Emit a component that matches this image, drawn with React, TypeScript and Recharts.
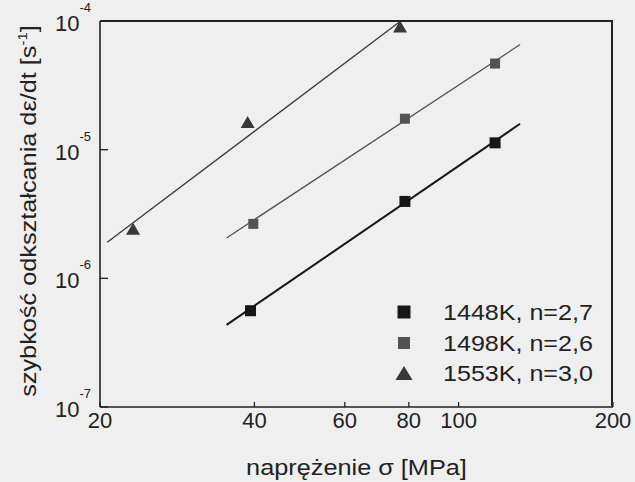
import React from 'react';
import { ScatterChart, Scatter, XAxis, YAxis, Legend } from 'recharts';

const W = 635;
const H = 482;

// stress [MPa] and creep rate [1/s]
const sigma1448 = [39.3, 78.6, 117.8];
const rate1448 = [5.6e-7, 3.96e-6, 1.13e-5];
const sigma1498 = [39.8, 78.6, 117.8];
const rate1498 = [2.65e-6, 1.74e-5, 4.67e-5];
const sigma1553 = [23.2, 38.8, 76.9];
const rate1553 = [2.43e-6, 1.64e-5, 9.06e-5];

// fitted power-law lines (end points)
const fitSigma1448 = [35.3, 131.8];
const fitRate1448 = [4.35e-7, 1.59e-5];
const fitSigma1498 = [35.3, 131.8];
const fitRate1498 = [2.06e-6, 6.56e-5];
const fitSigma1553 = [20.66, 76.9];
const fitRate1553 = [1.91e-6, 9.9e-5];

const seriesNames = ['1448K, n=2,7', '1498K, n=2,6', '1553K, n=3,0'];
const xTicks = [20, 40, 60, 80, 100, 200];
const yTicks = [1e-7, 1e-6, 1e-5, 1e-4];
const xDomain = [20, 200];
const yDomain = [1e-7, 1e-4];

const xTitle = 'naprężenie σ [MPa]';
const yTitle = 'szybkość odkształcania dε/dt [s';

const zip = (xs: number[], ys: number[]) => xs.map((x, i) => ({ x, y: ys[i] }));

const d1448 = zip(sigma1448, rate1448);
const d1498 = zip(sigma1498, rate1498);
const d1553 = zip(sigma1553, rate1553);
const f1448 = zip(fitSigma1448, fitRate1448);
const f1498 = zip(fitSigma1498, fitRate1498);
const f1553 = zip(fitSigma1553, fitRate1553);

const FONT = '"Liberation Sans", Arial, sans-serif';
const INK = '#222';
const C1 = '#161616';
const C2 = '#525252';
const C3 = '#383838';

const MARGIN = { top: 21, right: 22, bottom: 15, left: 20 };
const Y_AXIS_W = 80;
const X_AXIS_H = 60;

const Empty = () => <g />;

const SquareShape = (color: string, size: number) => (props: any) => {
  const { cx, cy } = props;
  if (cx == null || cy == null) return <g />;
  return <rect x={cx - size / 2} y={cy - size / 2} width={size} height={size} fill={color} />;
};

const TriShape = (color: string, w: number, h: number) => (props: any) => {
  const { cx, cy } = props;
  if (cx == null || cy == null) return <g />;
  const pts = `${cx},${cy - h / 2} ${cx + w / 2},${cy + h / 2} ${cx - w / 2},${cy + h / 2}`;
  return <polygon points={pts} fill={color} />;
};

// tickSize is -5 (inward), so the tick's y is axis y - 5
const XTick = (props: any) => {
  const { x, y, payload } = props;
  return (
    <text x={x} y={y + 26} textAnchor="middle" fontSize={22} fontFamily={FONT} fill={INK}>
      {payload.value}
    </text>
  );
};

// tickSize is -8 (inward), so the tick's x is axis x + 8
const YTick = (props: any) => {
  const { x, y, payload } = props;
  const exp = Math.round(Math.log10(payload.value));
  return (
    <text x={x - 17} y={y + 10} textAnchor="end" fontSize={22} fontFamily={FONT} fill={INK}>
      <tspan>10</tspan>
      <tspan dy={-19} fontSize={13}>{`-${Math.abs(exp)}`}</tspan>
    </text>
  );
};

const XTitle = (props: any) => {
  const vb = props.viewBox || { x: 100, y: 407, width: 513, height: 60 };
  const cx = vb.x + vb.width / 2;
  const by = vb.y + 68;
  return (
    <text
      transform={`translate(${cx},${by}) scale(1.15,1)`}
      textAnchor="middle"
      fontSize={22}
      fontFamily={FONT}
      fill={INK}
    >
      {xTitle}
    </text>
  );
};

const YTitle = (props: any) => {
  const vb = props.viewBox || { x: 20, y: 21, width: 80, height: 386 };
  const cy = vb.y + vb.height / 2 - 3;
  const bx = 36;
  return (
    <text
      transform={`translate(${bx},${cy}) rotate(-90) scale(1.15,1)`}
      textAnchor="middle"
      fontSize={22}
      fontFamily={FONT}
      fill={INK}
    >
      <tspan>{yTitle}</tspan>
      <tspan dy={-9} fontSize={13}>-1</tspan>
      <tspan dy={9}>]</tspan>
    </text>
  );
};

const LegendBox = () => {
  const rows = [17, 48, 78];
  return (
    <svg width={235} height={100} style={{ overflow: 'visible' }}>
      <rect x={14 - 6.5} y={rows[0] - 6.5} width={13} height={13} fill={C1} />
      <rect x={14 - 6} y={rows[1] - 6} width={12} height={12} fill={C2} />
      <polygon points={`14,${rows[2] - 7} ${14 + 8.5},${rows[2] + 7} ${14 - 8.5},${rows[2] + 7}`} fill={C3} />
      {seriesNames.map((n, i) => (
        <text
          key={n}
          transform={`translate(53,${rows[i] + 8}) scale(1.14,1)`}
          fontSize={22}
          fontFamily={FONT}
          fill={INK}
        >
          {n}
        </text>
      ))}
    </svg>
  );
};

const frameLine = { stroke: INK, strokeWidth: 1.6 };
const tickStyle = { stroke: INK, strokeWidth: 1.3 };

export default function App() {
  const plotLeft = MARGIN.left + Y_AXIS_W;
  const plotTop = MARGIN.top;
  const plotW = W - plotLeft - MARGIN.right;
  const plotH = H - plotTop - MARGIN.bottom - X_AXIS_H;
  return (
    <div style={{ position: 'absolute', left: 0, top: 0, width: W, height: H, background: '#efefef' }}>
      <ScatterChart width={W} height={H} margin={MARGIN}>
        <XAxis
          type="number"
          dataKey="x"
          scale="log"
          domain={xDomain}
          ticks={xTicks}
          interval={0}
          axisLine={frameLine}
          tickLine={tickStyle}
          tickSize={-5}
          tickMargin={0}
          height={X_AXIS_H}
          tick={<XTick />}
          label={<XTitle />}
        />
        <YAxis
          type="number"
          dataKey="y"
          scale="log"
          domain={yDomain}
          ticks={yTicks}
          interval={0}
          axisLine={frameLine}
          tickLine={tickStyle}
          tickSize={-8}
          tickMargin={0}
          width={Y_AXIS_W}
          tick={<YTick />}
          label={<YTitle />}
        />
        <Scatter data={f1553} fill={C3} line={{ stroke: C3, strokeWidth: 1.3 }} shape={Empty} isAnimationActive={false} legendType="none" />
        <Scatter data={f1498} fill={C2} line={{ stroke: C2, strokeWidth: 1.3 }} shape={Empty} isAnimationActive={false} legendType="none" />
        <Scatter data={f1448} fill={C1} line={{ stroke: C1, strokeWidth: 2 }} shape={Empty} isAnimationActive={false} legendType="none" />
        <Scatter name={seriesNames[0]} data={d1448} fill={C1} shape={SquareShape(C1, 11)} isAnimationActive={false} />
        <Scatter name={seriesNames[1]} data={d1498} fill={C2} shape={SquareShape(C2, 10)} isAnimationActive={false} />
        <Scatter name={seriesNames[2]} data={d1553} fill={C3} shape={TriShape(C3, 14, 12)} isAnimationActive={false} />
        <Legend
          layout="vertical"
          align="center"
          verticalAlign="middle"
          wrapperStyle={{ left: 390, top: 295, width: 235, height: 100 }}
          content={<LegendBox />}
        />
      </ScatterChart>
      {/* top and right edges of the plot frame */}
      <div
        style={{
          position: 'absolute',
          left: plotLeft,
          top: plotTop - 1,
          width: plotW,
          height: plotH,
          borderTop: `2px solid ${INK}`,
          borderRight: `2px solid ${INK}`,
          boxSizing: 'border-box',
          pointerEvents: 'none',
        }}
      />
    </div>
  );
}
